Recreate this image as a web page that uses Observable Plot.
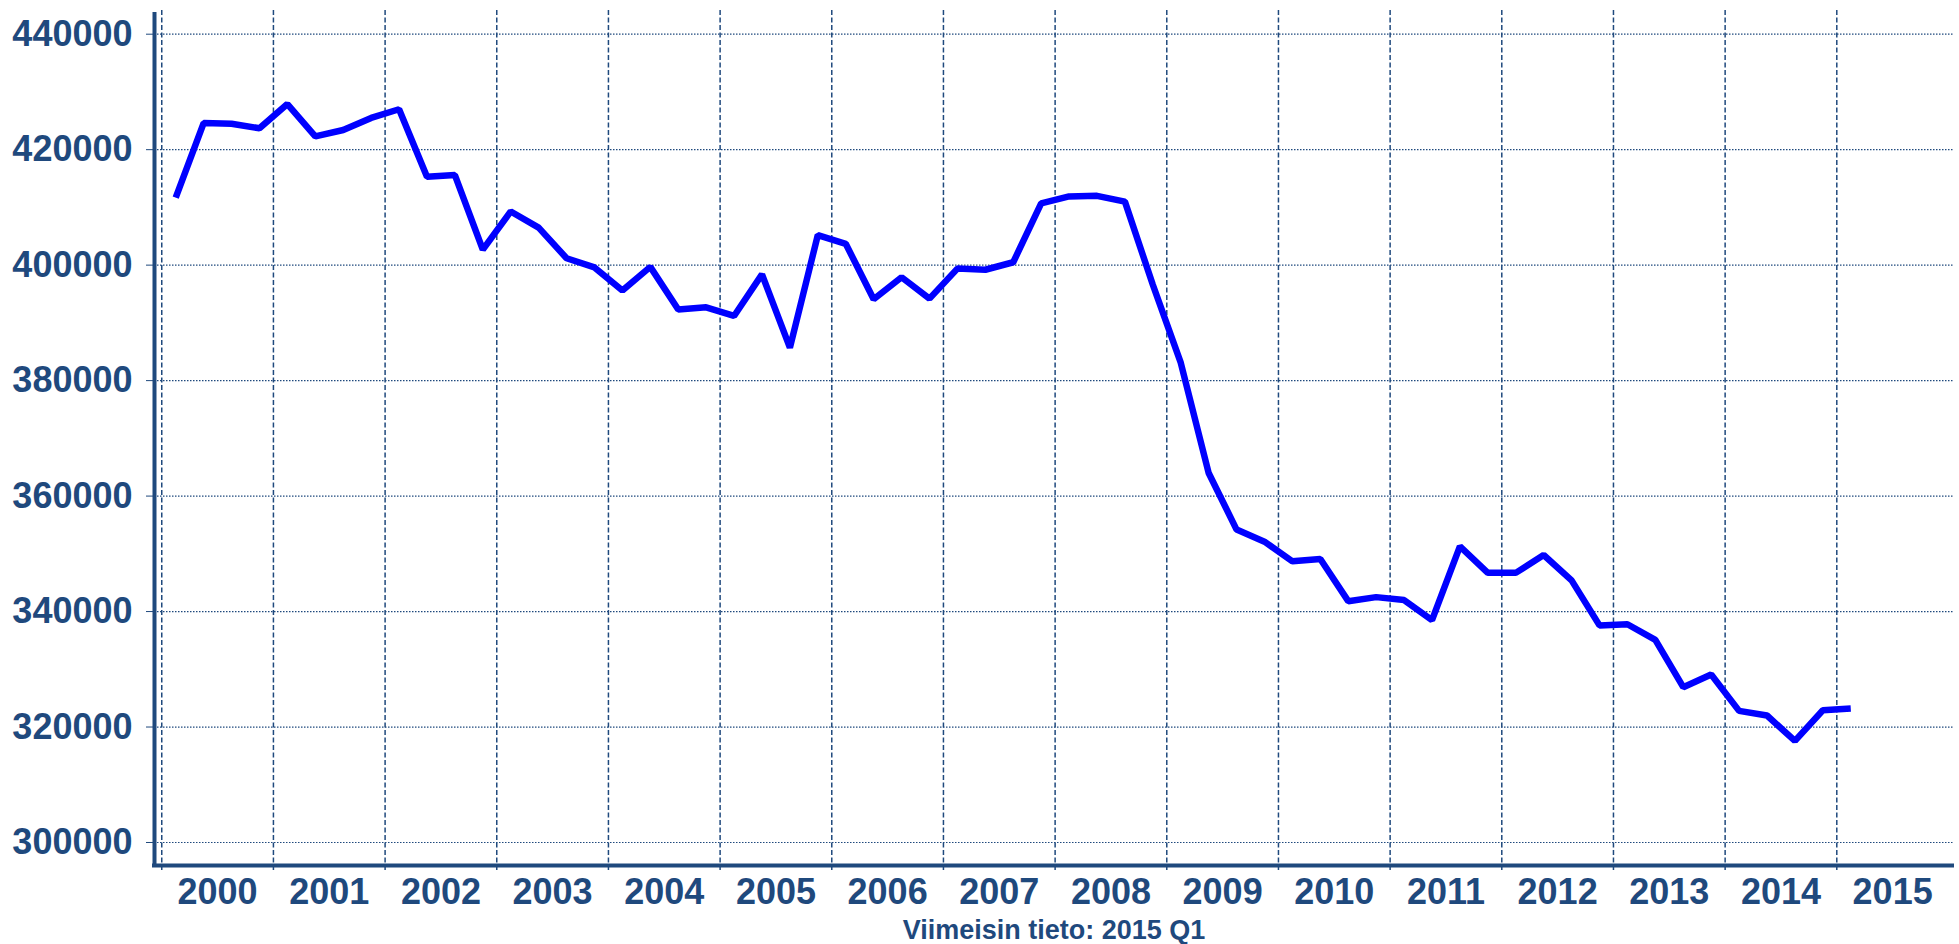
<!DOCTYPE html>
<html>
<head>
<meta charset="utf-8">
<script src="https://cdn.jsdelivr.net/npm/d3@7"></script>
<script src="https://cdn.jsdelivr.net/npm/@observablehq/plot@0.6"></script>
<style>
  html, body { margin: 0; padding: 0; background: #fff; overflow: hidden; }
  svg { display: block; }
  #cap { width: 1800px; padding-left: 154px; padding-right: 5px; text-align: center; font: bold 27px "Liberation Sans", Arial, sans-serif; color: #1F497D; line-height: 28px; height: 28px; white-space: nowrap; }
</style>
</head>
<body>
<div id="chart"></div>
<div id="cap"></div>
<script>
// Categories
const years = [2000, 2001, 2002, 2003, 2004, 2005, 2006, 2007, 2008, 2009, 2010, 2011, 2012, 2013, 2014, 2015];
const yearLabels = ["2000", "2001", "2002", "2003", "2004", "2005", "2006", "2007", "2008", "2009", "2010", "2011", "2012", "2013", "2014", "2015"];
const quarterNames = ["Q1", "Q2", "Q3", "Q4"];
// Series values, 2000 Q1 ... 2015 Q1
const values = [
  411700, 424600, 424500, 423700,
  427900, 422300, 423400, 425500,
  427000, 415300, 415600, 402700,
  409300, 406500, 401200, 399600,
  395600, 399700, 392300, 392700,
  391200, 398400, 385700, 405200,
  403700, 394100, 397900, 394200,
  399400, 399200, 400500, 410700,
  411900, 412000, 411000, 396600,
  383100, 364000, 354200, 352100,
  348700, 349100, 341800, 342500,
  342000, 338500, 351300, 346700,
  346700, 349800, 345400, 337600,
  337800, 335100, 326900, 329100,
  322800, 322000, 317600, 322900,
  323200
];
// Tick labels
const yTicks = [300000, 320000, 340000, 360000, 380000, 400000, 420000, 440000];
const caption = "Viimeisin tieto: 2015 Q1";

const data = values.map((v, i) => ({
  quarter: `${years[Math.floor(i / 4)]} ${quarterNames[i % 4]}`,
  t: years[Math.floor(i / 4)] + (i % 4 + 0.5) / 4,
  v
}));

const ink = "#1F497D";
const xDomain = [1999.935, 2016.054];
const yDomain = [296016, 443758];

const chart = Plot.plot({
  width: 1959,
  height: 916,
  marginLeft: 154,
  marginRight: 5,
  marginTop: 12,
  marginBottom: 51,
  style: { color: ink, fontFamily: "'Liberation Sans', Arial, sans-serif", background: "#fff" },
  x: { type: "linear", domain: xDomain },
  y: { type: "linear", domain: yDomain },
  marks: [
    Plot.ruleY(yTicks, { stroke: ink, strokeWidth: 1.2, strokeDasharray: "1.5,1.5", strokeOpacity: 1 }),
    Plot.ruleX(years, { stroke: ink, strokeWidth: 1.5, strokeDasharray: "5,2.5", strokeOpacity: 1, insetTop: -2, insetBottom: -7 }),
    Plot.line(data, { x: "t", y: "v", stroke: "#0000FF", strokeWidth: 6.5, strokeLinejoin: "bevel", strokeLinecap: "butt" }),
    Plot.ruleX([xDomain[0]], { stroke: ink, strokeWidth: 4 }),
    Plot.ruleY([yDomain[0]], { stroke: ink, strokeWidth: 4, insetLeft: -2 }),
    Plot.axisY({ ticks: yTicks, tickSize: 8, tickPadding: 14, fontSize: 36, fontWeight: "bold", tickFormat: d => String(d), label: null }),
    Plot.axisX({ ticks: years.map(y => y + 0.5), tickSize: 0, tickPadding: 13, fontSize: 36, fontWeight: "bold",
                 tickFormat: d => yearLabels[years.indexOf(Math.floor(d))], label: null })
  ]
});

document.getElementById("chart").appendChild(chart);
document.getElementById("cap").textContent = caption;
</script>
</body>
</html>
